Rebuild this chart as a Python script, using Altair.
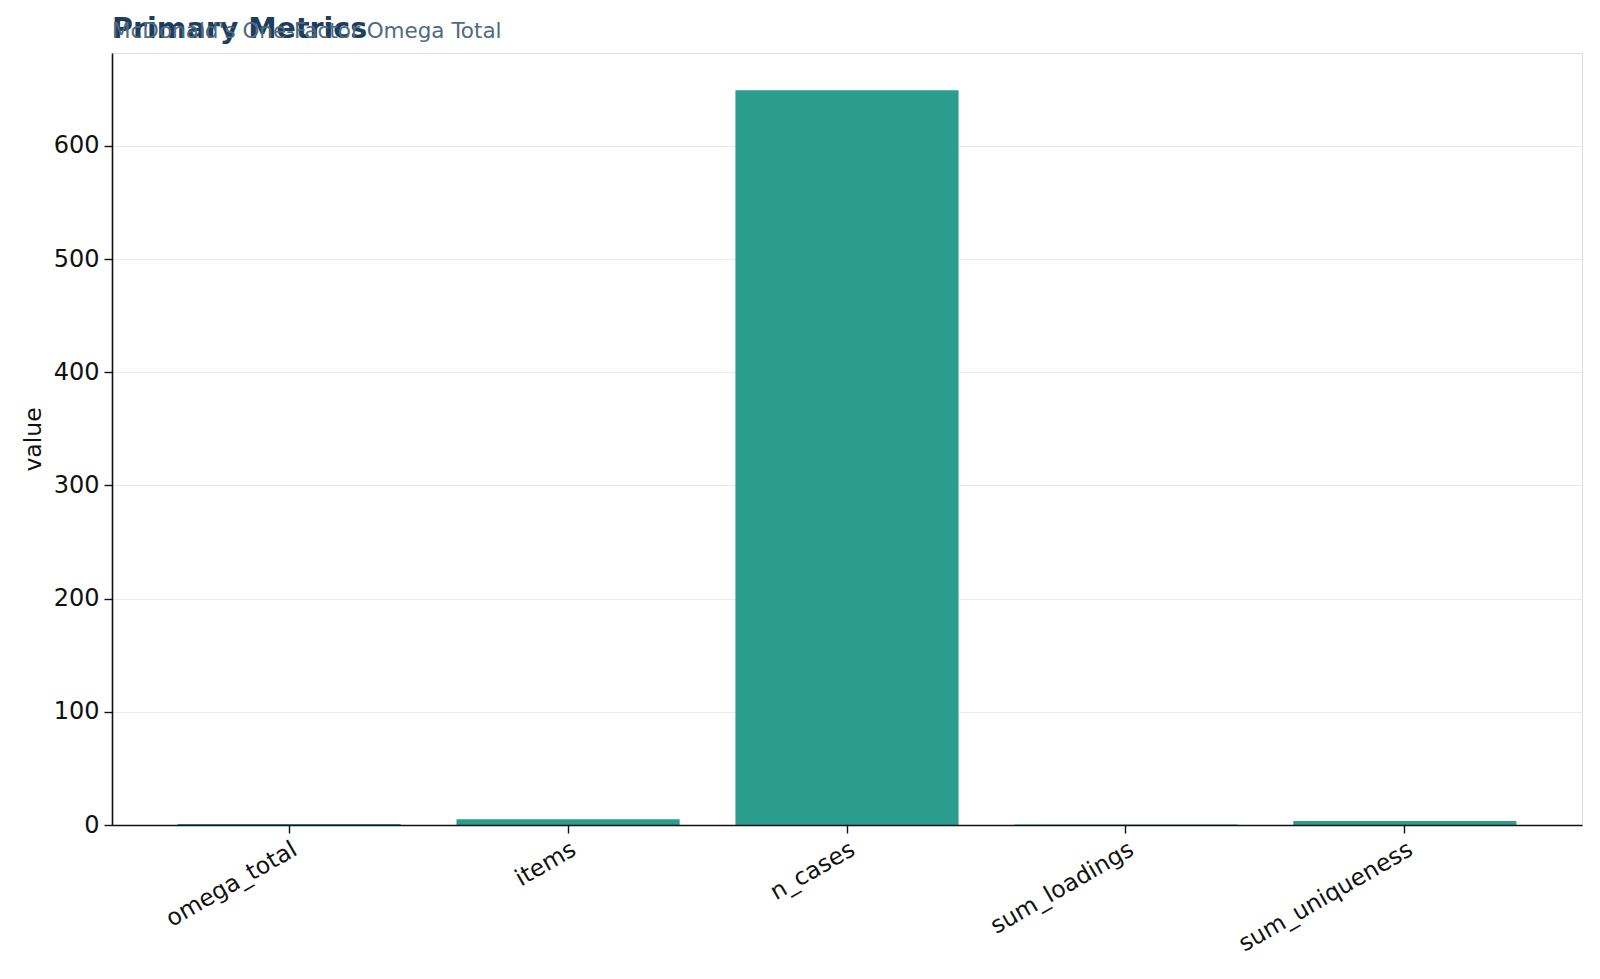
import altair as alt
import pandas as pd

metrics = ["omega_total", "items", "n_cases", "sum_loadings", "sum_uniqueness"]
values = [0.79, 5, 649, 0.4, 3.6]

df = pd.DataFrame({"metric": metrics, "value": values})

FONT = "DejaVu Sans"

bars = alt.Chart(df).mark_bar(color="#2a9d8f", opacity=1.0).encode(
    x=alt.X("metric:N", sort=metrics, title=None,
            scale=alt.Scale(paddingInner=0.2, paddingOuter=0.235),
            axis=alt.Axis(labelAngle=-30, labelAlign="right", labelBaseline="top",
                          tickSize=8, labelPadding=4, labelFontSize=23.5, labelLimit=1000,
                          labelColor="#111111", domainColor="#111111", domainWidth=1.6,
                          tickColor="#111111", tickWidth=1.4, grid=False, labelFont=FONT,
                          zindex=1)),
    y=alt.Y("value:Q", title="value",
            scale=alt.Scale(domain=[0, 682], nice=False, zero=True),
            axis=alt.Axis(values=[0, 100, 200, 300, 400, 500, 600], tickSize=8,
                          labelPadding=5, labelFontSize=24, labelColor="#111111",
                          titleFontSize=23.5, titleFontWeight="normal", titleColor="#111111",
                          titlePadding=8, domainColor="#111111", domainWidth=1.6,
                          tickColor="#111111", tickWidth=1.4, grid=True,
                          gridColor="#ebebeb", gridWidth=1.2, labelFont=FONT, titleFont=FONT)),
)

chart = bars.properties(
    width=1470,
    height=772,
    title=alt.TitleParams(
        text="Primary Metrics",
        subtitle="McDonald's One-Factor Omega Total",
        anchor="start",
        frame="group",
        font=FONT,
        fontSize=28.5,
        fontWeight="bold",
        color="#1d3d5c",
        subtitleFont=FONT,
        subtitleFontSize=21.5,
        subtitleColor="#4f6a82",
        subtitlePadding=-22,
        offset=10,
    ),
    padding={"left": 104, "top": 45, "right": 10, "bottom": 148},
    autosize=alt.AutoSizeParams(type="none"),
).configure_view(
    stroke="#111111", strokeWidth=1.6
).configure(background="white")

chart.save("out.html", embed_options={"renderer": "svg", "actions": False})
